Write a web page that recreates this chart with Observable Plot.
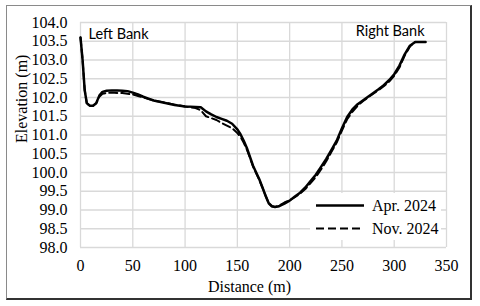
<!DOCTYPE html>
<html>
<head>
<meta charset="utf-8">
<script src="https://cdn.jsdelivr.net/npm/d3@7"></script>
<script src="https://cdn.jsdelivr.net/npm/@observablehq/plot@0.6"></script>
<style>
  html, body { margin: 0; padding: 0; background: white; }
  #wrap { position: relative; width: 480px; height: 306px; }
  #border { position: absolute; left: 6px; top: 5px; width: 463px; height: 292px;
    border-top: 1px solid #8a8a8a; border-left: 1px solid #8a8a8a;
    border-right: 2px solid #333; border-bottom: 2px solid #333; pointer-events: none; }
  #legend { position: absolute; left: 310px; top: 193px; width: 131px; height: 47px; background: white; }
</style>
</head>
<body>
<div id="wrap"><div id="border"></div></div>
<script>
const distance = [0, 2, 4, 6, 9, 12, 15, 18, 21, 25, 30, 35, 40, 45, 50, 55, 60, 65, 70, 80, 90, 100, 110, 115, 120, 125, 130, 135, 140, 145, 150, 153, 156, 159, 162, 165, 168, 171, 174, 177, 180, 183, 186, 190, 195, 200, 205, 210, 215, 220, 225, 230, 235, 240, 245, 250, 255, 260, 265, 270, 275, 280, 285, 290, 295, 300, 305, 310, 315, 320, 325, 330];
const elevApr2024 = [103.6, 103.0, 102.2, 101.85, 101.78, 101.78, 101.85, 102.05, 102.15, 102.18, 102.19, 102.19, 102.18, 102.17, 102.13, 102.08, 102.02, 101.97, 101.92, 101.86, 101.80, 101.76, 101.75, 101.74, 101.63, 101.55, 101.48, 101.43, 101.38, 101.3, 101.15, 101.02, 100.85, 100.66, 100.42, 100.18, 100.0, 99.82, 99.6, 99.38, 99.18, 99.1, 99.08, 99.1, 99.17, 99.25, 99.36, 99.46, 99.6, 99.77, 99.94, 100.15, 100.36, 100.6, 100.85, 101.18, 101.48, 101.68, 101.82, 101.92, 102.02, 102.12, 102.22, 102.33, 102.46, 102.62, 102.85, 103.15, 103.38, 103.48, 103.48, 103.48];
const elevNov2024 = [103.6, 103.0, 102.2, 101.85, 101.77, 101.78, 101.84, 102.02, 102.1, 102.12, 102.13, 102.12, 102.12, 102.1, 102.08, 102.04, 102.0, 101.96, 101.92, 101.87, 101.81, 101.76, 101.72, 101.66, 101.5, 101.45, 101.4, 101.32, 101.25, 101.18, 101.05, 100.95, 100.8, 100.62, 100.4, 100.16, 99.98, 99.8, 99.6, 99.38, 99.18, 99.1, 99.08, 99.12, 99.2, 99.26, 99.34, 99.44, 99.56, 99.72, 99.88, 100.08, 100.3, 100.55, 100.8, 101.12, 101.42, 101.62, 101.78, 101.9, 102.0, 102.1, 102.2, 102.3, 102.42, 102.58, 102.8, 103.12, 103.36, 103.48, 103.48, 103.48];
const seriesNames = ["Apr. 2024", "Nov. 2024"];
const xTicks = [0, 50, 100, 150, 200, 250, 300, 350];
const yTicks = [98.0, 98.5, 99.0, 99.5, 100.0, 100.5, 101.0, 101.5, 102.0, 102.5, 103.0, 103.5, 104.0];
const bankLabels = ["Left Bank", "Right Bank"];
const xTitle = "Distance (m)";
const yTitle = "Elevation (m)";

const apr = distance.map((d, i) => ({distance: d, elevation: elevApr2024[i]}));
const nov = distance.map((d, i) => ({distance: d, elevation: elevNov2024[i]}));
const serif = "'Liberation Serif', 'Times New Roman', serif";
const sans = "Lato, 'Liberation Sans', sans-serif";

const chart = Plot.plot({
  width: 480, height: 306,
  marginLeft: 80, marginRight: 34, marginTop: 22, marginBottom: 59,
  style: {fontFamily: serif, fontSize: "16px", color: "#000", background: "white"},
  x: {domain: [0, 350]},
  y: {domain: [98, 104]},
  marks: [
    Plot.gridX(xTicks, {stroke: "#d9d9d9", strokeOpacity: 1, strokeWidth: 1.3}),
    Plot.gridY(yTicks, {stroke: "#d9d9d9", strokeOpacity: 1, strokeWidth: 1.3}),
    Plot.axisX(xTicks, {tickSize: 0, tickPadding: 12, label: null, fontSize: 16}),
    Plot.axisY(yTicks, {tickSize: 0, tickPadding: 13, tickFormat: d3.format(".1f"), label: null, fontSize: 16}),
    Plot.text([xTitle], {frameAnchor: "bottom", text: d => d, lineAnchor: "middle", dx: -14, dy: 39, fontFamily: serif, fontSize: 16}),
    Plot.text([yTitle], {frameAnchor: "left", text: d => d, lineAnchor: "middle", rotate: -90, dx: -59, dy: 8, fontFamily: serif, fontSize: 16}),
    Plot.line(apr, {x: "distance", y: "elevation", stroke: "black", strokeWidth: 2.5}),
    Plot.line(nov, {x: "distance", y: "elevation", stroke: "black", strokeWidth: 2, strokeDasharray: "8,4"}),
    Plot.text([bankLabels[0]], {frameAnchor: "top-left", text: d => d, textAnchor: "start", lineAnchor: "top", dx: 8, dy: 6, fontFamily: sans, fontSize: 14.5}),
    Plot.text([bankLabels[1]], {frameAnchor: "top-right", text: d => d, textAnchor: "end", lineAnchor: "top", dx: -22, dy: 3, fontFamily: sans, fontSize: 14.5})
  ]
});
const wrap = document.getElementById("wrap");
wrap.insertBefore(chart, wrap.firstChild);

// legend
const leg = document.createElement("div");
leg.id = "legend";
wrap.appendChild(leg);
const lsvg = d3.select(leg).append("svg").attr("width", 131).attr("height", 47);
const styles = [{w: 2.5, dash: null}, {w: 2, dash: "8,4"}];
seriesNames.forEach((name, i) => {
  const y = 12.5 + i * 23;
  lsvg.append("line").attr("x1", 6).attr("x2", 54).attr("y1", y).attr("y2", y)
    .attr("stroke", "black").attr("stroke-width", styles[i].w)
    .attr("stroke-dasharray", styles[i].dash);
  lsvg.append("text").attr("x", 62).attr("y", y).attr("dy", "0.35em")
    .attr("font-family", serif)
    .attr("font-size", 16).text(name);
});
</script>
</body>
</html>
